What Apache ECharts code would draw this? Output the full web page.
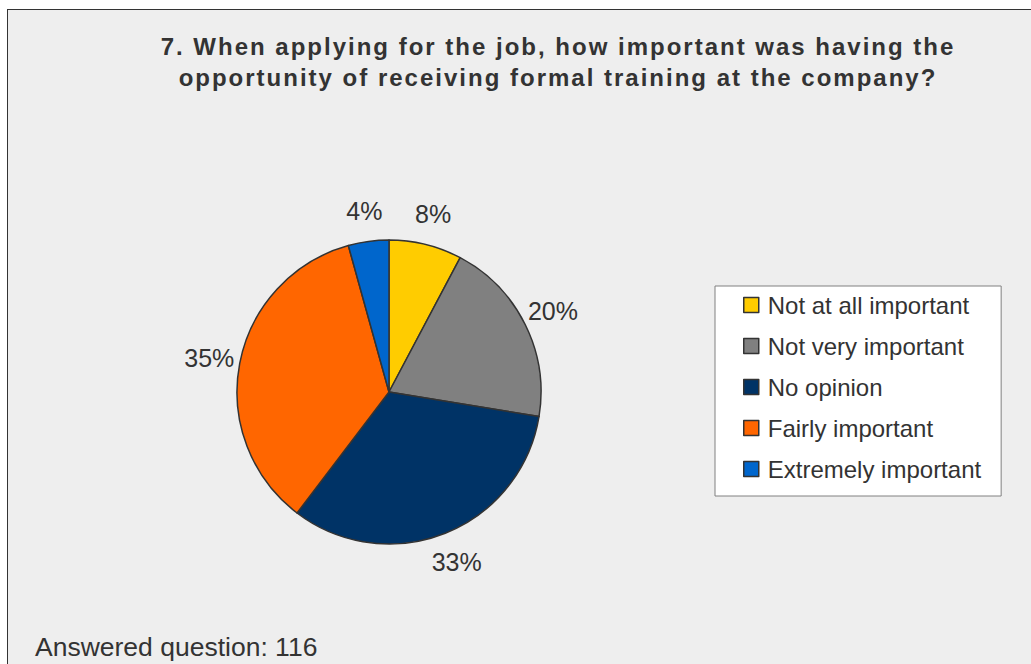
<!DOCTYPE html>
<html>
<head>
<meta charset="utf-8">
<script src="https://cdn.jsdelivr.net/npm/echarts@6/dist/echarts.min.js"></script>
<style>
  html, body { margin: 0; padding: 0; background: #ffffff; overflow: hidden; }
  #frame {
    position: absolute; left: 7px; top: 9px; width: 1060px; height: 700px;
    background: #eeeeee; border: 1px solid #333333; box-sizing: border-box;
  }
  #chart { position: absolute; left: 0; top: 0; width: 1031px; height: 664px; }
  /* tracked-out heading */
  #chart text[style*="bold"], #chart text[font-weight="bold"] { letter-spacing: 2px; }
</style>
</head>
<body>
<div id="frame"></div>
<div id="chart"></div>
<script>
// Survey question 7: importance of formal training when applying
const questionTitle = '7. When applying for the job, how important was having the\nopportunity of receiving formal training at the company?';
const categories = ['Not at all important', 'Not very important', 'No opinion', 'Fairly important', 'Extremely important'];
const respondents = [9, 23, 38, 41, 5];
const answeredCount = 116;
const palette = ['#FFCC00', '#808080', '#003366', '#FF6600', '#0066CC'];

const sliceData = categories.map((name, i) => ({ value: respondents[i], name: name }));

const chart = echarts.init(document.getElementById('chart'), null, { renderer: 'svg' });

const option = {
  backgroundColor: 'transparent',
  animation: false,
  color: palette,
  title: [
    {
      text: questionTitle,
      left: 558,
      top: 31,
      textAlign: 'center',
      padding: 0,
      textStyle: {
        fontFamily: 'Liberation Sans',
        fontWeight: 'bold',
        fontSize: 24,
        lineHeight: 31,
        color: '#333333'
      }
    },
    {
      text: 'Answered question: ' + answeredCount,
      left: 35,
      top: 632,
      padding: 0,
      textStyle: {
        fontFamily: 'Liberation Sans',
        fontWeight: 'normal',
        fontSize: 26.5,
        lineHeight: 30,
        color: '#333333'
      }
    }
  ],
  legend: {
    orient: 'vertical',
    left: 715,
    top: 286,
    padding: [6, 20, 14, 28],
    backgroundColor: '#ffffff',
    borderColor: '#808080',
    borderWidth: 1,
    borderRadius: 0,
    itemWidth: 15,
    itemHeight: 15,
    itemGap: 15,
    icon: 'rect',
    selectedMode: false,
    data: categories,
    itemStyle: { borderColor: '#333333', borderWidth: 1.5 },
    textStyle: {
      fontFamily: 'Liberation Sans',
      fontSize: 24,
      lineHeight: 26,
      color: '#333333',
      padding: [0, 0, 0, 4]
    }
  },
  series: [
    {
      // the pie itself
      type: 'pie',
      center: [389, 392],
      radius: 152,
      startAngle: 90,
      clockwise: true,
      avoidLabelOverlap: false,
      silent: true,
      data: sliceData,
      itemStyle: { borderColor: '#333333', borderWidth: 1.5 },
      label: { show: false },
      labelLine: { show: false }
    },
    {
      // invisible outer ring that carries the percentage labels
      type: 'pie',
      center: [389, 392],
      radius: [170, 190],
      startAngle: 90,
      clockwise: true,
      avoidLabelOverlap: false,
      silent: true,
      percentPrecision: 0,
      data: sliceData,
      itemStyle: { color: 'rgba(0,0,0,0)', borderWidth: 0 },
      label: {
        show: true,
        position: 'inside',
        formatter: '{d}%',
        fontFamily: 'Liberation Sans',
        fontSize: 25,
        color: '#333333'
      },
      labelLine: { show: false }
    }
  ]
};

chart.setOption(option);
</script>
</body>
</html>
